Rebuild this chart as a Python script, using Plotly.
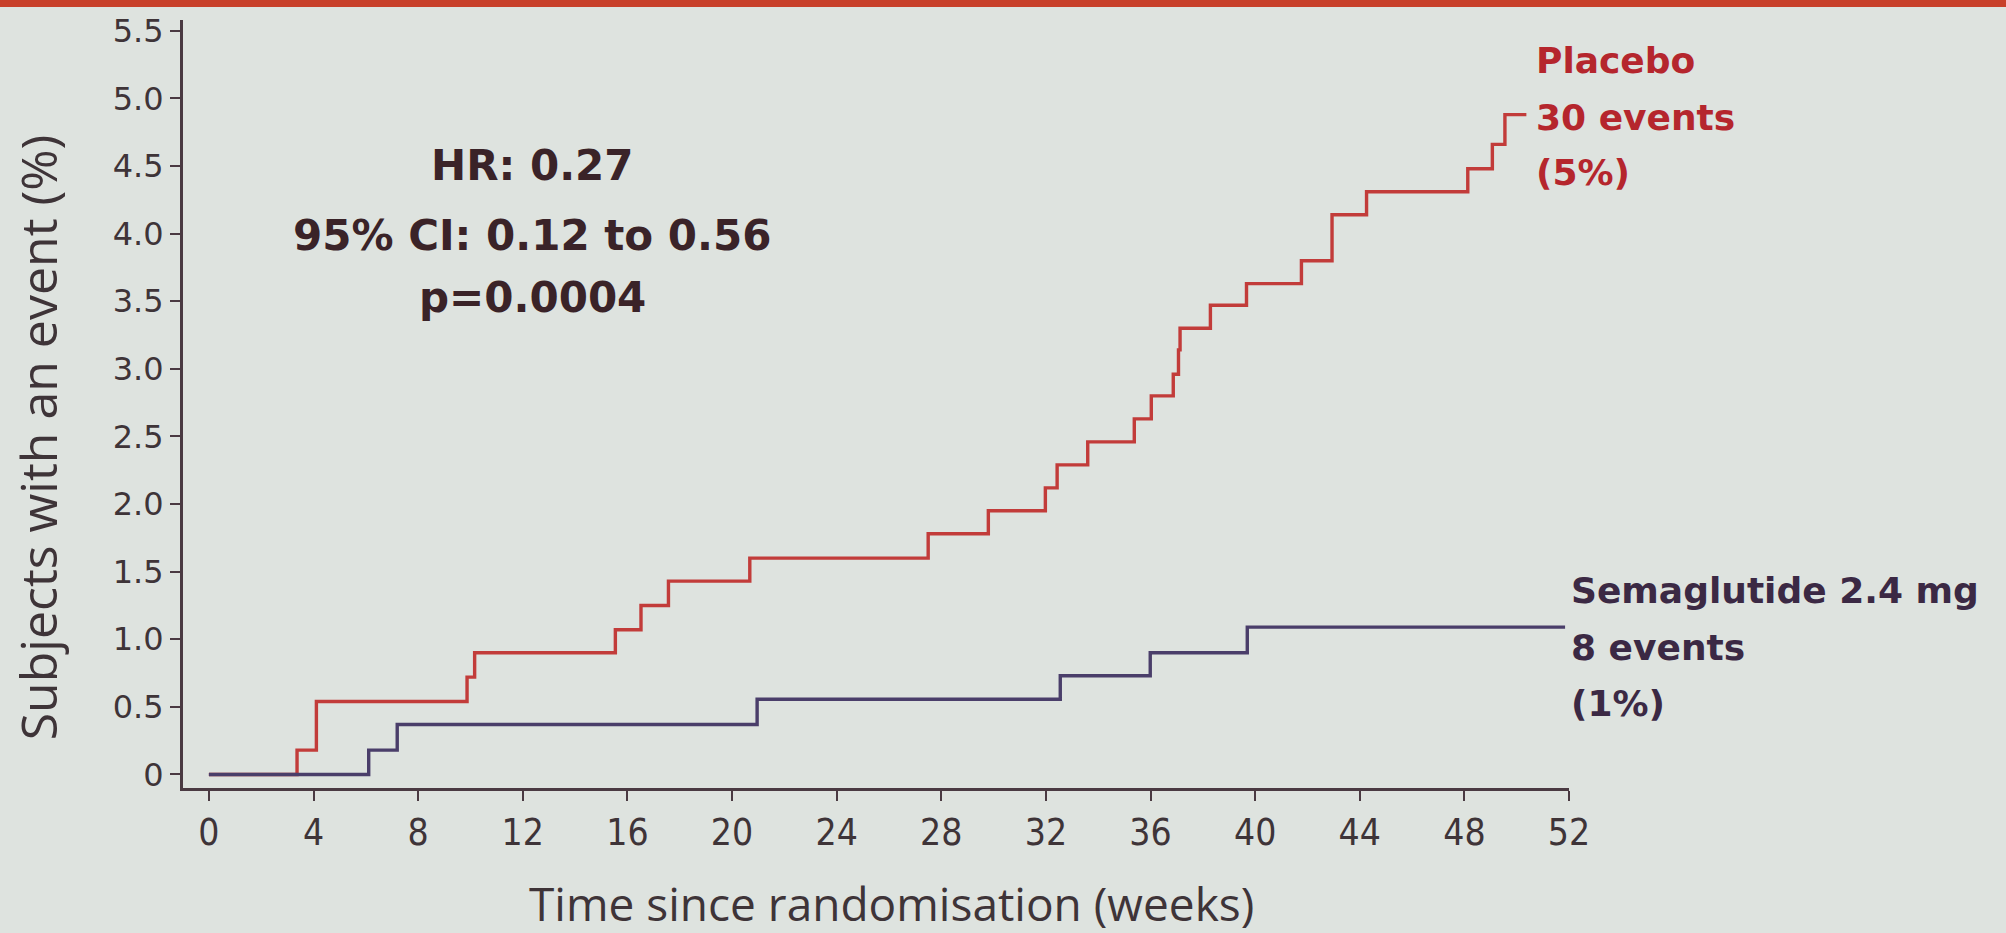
import plotly.graph_objects as go

# ---- data ----
week_ticks = [0, 4, 8, 12, 16, 20, 24, 28, 32, 36, 40, 44, 48, 52]
pct_ticks = [0, 0.5, 1.0, 1.5, 2.0, 2.5, 3.0, 3.5, 4.0, 4.5, 5.0, 5.5]
pct_tick_labels = ["0", "0.5", "1.0", "1.5", "2.0", "2.5", "3.0", "3.5", "4.0", "4.5", "5.0", "5.5"]

placebo_weeks = [0, 3.37, 4.11, 9.87, 10.16, 15.54, 16.52, 17.57, 20.68, 27.5, 29.8,
                 31.98, 32.43, 33.6, 35.38, 36.03, 36.87, 37.07, 37.13, 38.29, 39.67,
                 41.77, 42.94, 44.26, 48.13, 49.07, 49.55, 50.37]
placebo_pct = [0, 0.18, 0.54, 0.72, 0.90, 1.07, 1.25, 1.43, 1.60, 1.78, 1.95,
               2.12, 2.29, 2.46, 2.63, 2.80, 2.96, 3.14, 3.30, 3.47, 3.63,
               3.80, 4.14, 4.31, 4.48, 4.66, 4.88, 4.88]

sema_weeks = [0, 6.11, 7.20, 20.96, 32.55, 35.99, 39.70, 51.85]
sema_pct = [0, 0.18, 0.37, 0.556, 0.73, 0.90, 1.09, 1.09]

hr_lines = ["HR: 0.27", "95% CI: 0.12 to 0.56", "p=0.0004"]
placebo_lines = ["Placebo", "30 events", "(5%)"]
sema_lines = ["Semaglutide 2.4 mg", "8 events", "(1%)"]
x_title = "Time since randomisation (weeks)"
y_title = "Subjects with an event (%)"

# ---- style ----
BG = "#dee3df"
AXIS = "#4a3a42"
RED = "#c23c3a"
PURPLE = "#4a3e6a"
TXT = "#3a2328"
RED_TXT = "#b5262d"
PUR_TXT = "#3b2944"
LBL = "#3e3438"

W, H = 2006, 933
L, R, T, B = 183, 437, 17, 145
PW, PH = W - L - R, H - T - B


def px(xp):
    return (xp - L) / PW


def py(yp):
    return (H - B - yp) / PH


fig = go.Figure()
fig.add_trace(go.Scatter(x=placebo_weeks, y=placebo_pct, mode="lines",
                         line=dict(shape="hv", color=RED, width=3.4),
                         name="Placebo", hoverinfo="skip"))
fig.add_trace(go.Scatter(x=sema_weeks, y=sema_pct, mode="lines",
                         line=dict(shape="hv", color=PURPLE, width=3.4),
                         name="Semaglutide 2.4 mg", hoverinfo="skip"))

ann = []
hr_y = [163, 233, 296]
for t, yy in zip(hr_lines, hr_y):
    ann.append(dict(text=t, x=px(532), y=py(yy), xref="paper", yref="paper",
                    xanchor="center", yanchor="middle", showarrow=False,
                    font=dict(family="DejaVu Sans", size=42, color=TXT, weight="bold")))
pl_y = [58, 115, 170]
for t, yy in zip(placebo_lines, pl_y):
    ann.append(dict(text=t, x=px(1534), y=py(yy), xref="paper", yref="paper",
                    xanchor="left", yanchor="middle", showarrow=False,
                    font=dict(family="DejaVu Sans", size=36, color=RED_TXT, weight="bold")))
se_y = [590, 647, 703]
for t, yy in zip(sema_lines, se_y):
    ann.append(dict(text=t, x=px(1569), y=py(yy), xref="paper", yref="paper",
                    xanchor="left", yanchor="middle", showarrow=False,
                    font=dict(family="DejaVu Sans", size=36, color=PUR_TXT, weight="bold")))
ann.append(dict(text=x_title, x=px(891), y=py(903), xref="paper", yref="paper",
                xanchor="center", yanchor="middle", showarrow=False,
                font=dict(family="Open Sans", size=46, color=LBL)))
ann.append(dict(text=y_title, x=px(38), y=py(436), xref="paper", yref="paper",
                xanchor="center", yanchor="middle", showarrow=False, textangle=-90,
                font=dict(family="Open Sans", size=50, color=LBL)))

fig.update_layout(
    width=W, height=H,
    margin=dict(l=L, r=R, t=T, b=B, pad=0),
    paper_bgcolor=BG, plot_bgcolor=BG,
    showlegend=False,
    annotations=ann,
    shapes=[dict(type="rect", xref="paper", yref="paper",
                 x0=px(-10), x1=px(W + 10), y0=py(4), y1=py(-10),
                 fillcolor="#c8402a", line=dict(width=0), layer="above")],
    xaxis=dict(range=[-0.99, 52], tickvals=week_ticks, ticks="outside", ticklen=10,
               tickwidth=2, tickcolor=AXIS, showline=True, linecolor=AXIS, linewidth=3,
               showgrid=False, zeroline=False,
               tickfont=dict(family="Liberation Sans Narrow, DejaVu Sans Condensed, Open Sans",
                             size=37, color=LBL)),
    yaxis=dict(range=[-0.10, 5.58], tickvals=pct_ticks, ticktext=pct_tick_labels,
               ticks="outside", ticklen=10, tickwidth=2, tickcolor=AXIS,
               showline=True, linecolor=AXIS, linewidth=3, showgrid=False, zeroline=False,
               tickfont=dict(family="DejaVu Sans", size=32, color=LBL)),
)

fig.write_html("out.html")
